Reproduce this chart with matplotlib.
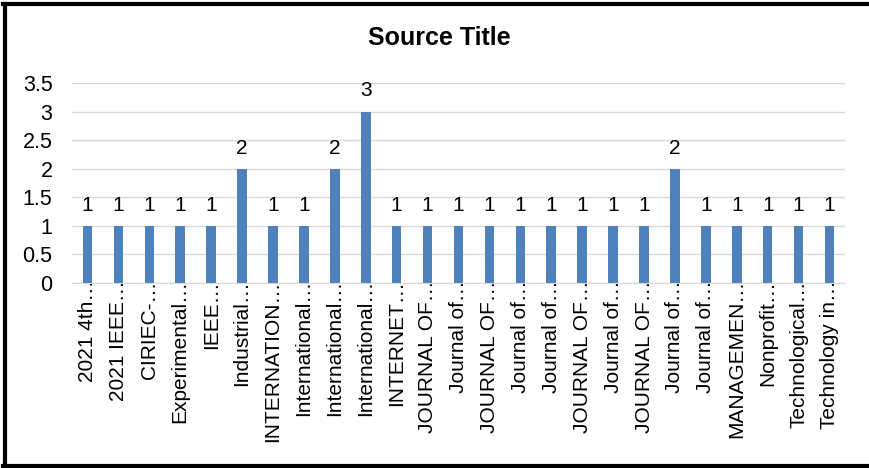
import matplotlib
matplotlib.use("Agg")
import matplotlib.pyplot as plt
from matplotlib.lines import Line2D

categories = ["2021 4th…", "2021 IEEE…", "CIRIEC-…", "Experimental…", "IEEE…",
              "Industrial…", "INTERNATION…", "International…", "International…",
              "International…", "INTERNET…", "JOURNAL OF…", "Journal of…",
              "JOURNAL OF…", "Journal of…", "Journal of…", "JOURNAL OF…",
              "Journal of…", "JOURNAL OF…", "Journal of…", "Journal of…",
              "MANAGEMEN…", "Nonprofit…", "Technological…", "Technology in…"]
values = [1, 1, 1, 1, 1, 2, 1, 1, 2, 3, 1, 1, 1, 1, 1, 1, 1, 1, 1, 2, 1, 1, 1, 1, 1]
yticks = [0, 0.5, 1, 1.5, 2, 2.5, 3, 3.5]
title = "Source Title"

plt.rcParams['font.family'] = ['Liberation Sans', 'DejaVu Sans']

W, H = 869, 468
fig = plt.figure(figsize=(W / 100, H / 100), dpi=100)
ax = fig.add_axes([72 / W, 1 - 283 / H, (845 - 72) / W, (283 - 83) / H])

x = list(range(len(categories)))
ax.bar(x, values, width=0.31, color="#4F81BD", zorder=3)
for xi, v in zip(x, values):
    ax.annotate(str(v), (xi, v), xytext=(0, 8), textcoords="offset points",
                ha="center", va="bottom", fontsize=15, color="#000000")

ax.set_xlim(-0.5, len(categories) - 0.5)
ax.set_ylim(0, 3.5)
ax.set_yticks(yticks)
ax.set_yticklabels([f"{t:g}" for t in yticks], fontsize=15.5)
ax.set_xticks(x)
ax.set_xticklabels(categories, rotation=90, fontsize=15)
ax.tick_params(axis="y", length=0, pad=14)
ax.tick_params(axis="x", length=0, pad=-2)
ax.grid(axis="y", color="#D9D9D9", linewidth=1, zorder=0)
for s in ["top", "right", "left"]:
    ax.spines[s].set_visible(False)
ax.spines["bottom"].set_color("#D9D9D9")
ax.spines["bottom"].set_zorder(4)

fig.text(439 / W, 1 - 38 / H, title, ha="center", va="center", fontsize=18, fontweight="bold")

lw = 3.0
tf = fig.transFigure
fig.lines.append(Line2D([5 / W, 5 / W], [1 - 4 / H, 1 - 466 / H], transform=tf, color="black", linewidth=lw))
fig.lines.append(Line2D([3 / W, 1.0], [1 - 4 / H, 1 - 4 / H], transform=tf, color="black", linewidth=lw))
fig.lines.append(Line2D([3 / W, 1.0], [1 - 466 / H, 1 - 466 / H], transform=tf, color="black", linewidth=lw))

fig.savefig("out.png", dpi=100)
